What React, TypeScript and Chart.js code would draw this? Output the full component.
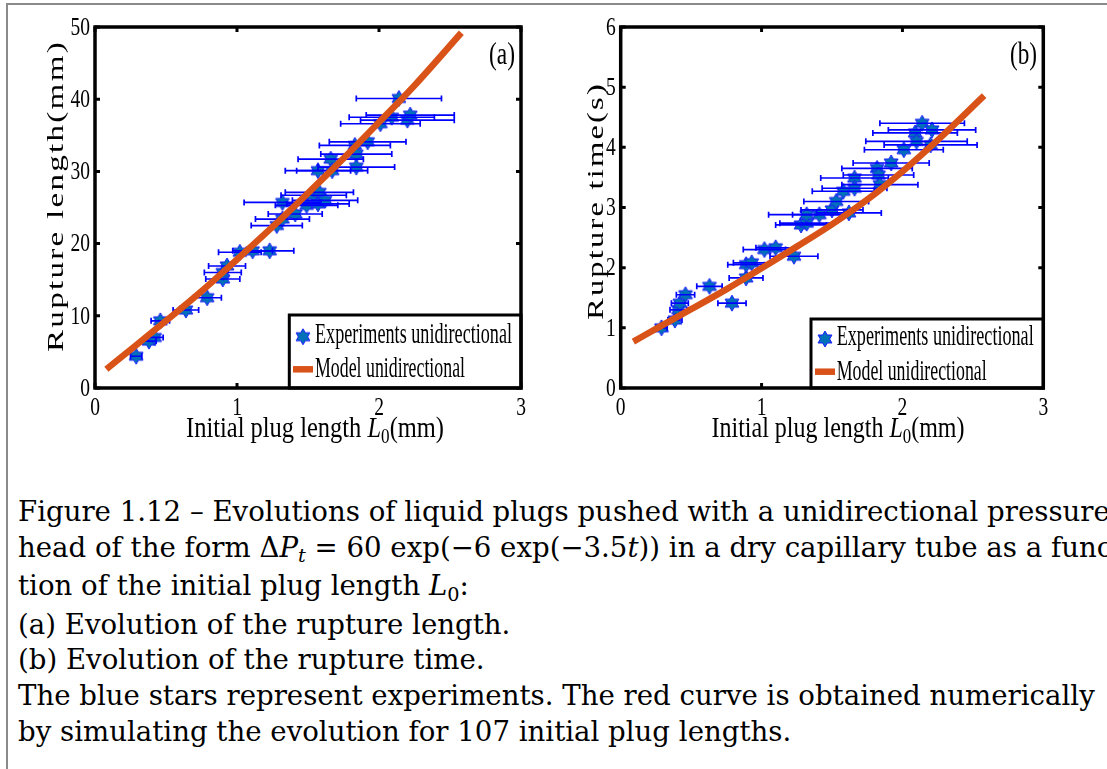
import React, { useEffect, useRef } from "react";
import { Chart, registerables } from "chart.js";
Chart.register(...registerables);

// ---------- data ----------
const X_TICKS = [0, 1, 2, 3];
const LENGTH_TICKS = [0, 10, 20, 30, 40, 50];
const TIME_TICKS = [0, 1, 2, 3, 4, 5, 6];

// panel (a): rupture length
const lengthL0 = [0.29, 0.38, 0.42, 0.46, 0.64, 0.79, 0.9, 0.9, 0.93, 1.02, 1.11, 1.23, 1.28, 1.32, 1.32, 1.41, 1.49, 1.54, 1.57, 1.57, 1.58, 1.62, 1.66, 1.67, 1.83, 1.84, 1.84, 1.92, 2.01, 2.09, 2.14, 2.2, 2.22];
const ruptureLength = [4.4, 6.5, 7.0, 9.3, 10.8, 12.5, 15.1, 16.0, 16.9, 18.8, 19.0, 19.0, 22.5, 23.4, 25.7, 24.1, 25.3, 26.7, 25.5, 30.1, 27.1, 26.0, 31.7, 30.1, 33.6, 32.4, 30.6, 34.1, 36.6, 37.5, 40.1, 37.1, 37.8];
const lengthErr = [0.04, 0.05, 0.06, 0.065, 0.09, 0.1, 0.12, 0.13, 0.13, 0.15, 0.14, 0.17, 0.18, 0.19, 0.27, 0.19, 0.22, 0.23, 0.22, 0.23, 0.24, 0.23, 0.23, 0.25, 0.25, 0.25, 0.27, 0.27, 0.28, 0.3, 0.3, 0.33, 0.31];
const modelLengthL0 = [0.08, 0.3, 0.5, 0.75, 1.0, 1.25, 1.5, 1.75, 2.0, 2.25, 2.58];
const modelLength = [2.6, 6.1, 9.3, 13.4, 17.8, 22.3, 27.0, 31.8, 36.8, 41.9, 49.2];

// panel (b): rupture time
const timeL0 = [0.29, 0.385, 0.41, 0.42, 0.46, 0.63, 0.79, 0.89, 0.89, 0.93, 1.02, 1.1, 1.23, 1.28, 1.32, 1.32, 1.41, 1.5, 1.53, 1.58, 1.62, 1.66, 1.66, 1.82, 1.83, 1.84, 1.92, 2.01, 2.09, 2.1, 2.14, 2.2, 2.21];
const ruptureTime = [1.0, 1.13, 1.3, 1.41, 1.55, 1.69, 1.41, 1.83, 2.05, 2.08, 2.3, 2.33, 2.19, 2.71, 2.74, 2.88, 2.88, 2.96, 3.1, 3.27, 2.91, 3.49, 3.32, 3.65, 3.54, 3.38, 3.74, 3.96, 4.24, 4.1, 4.4, 4.04, 4.29];
const timeErr = [0.04, 0.05, 0.06, 0.06, 0.065, 0.09, 0.1, 0.12, 0.13, 0.13, 0.15, 0.14, 0.17, 0.18, 0.19, 0.27, 0.19, 0.22, 0.23, 0.22, 0.23, 0.24, 0.23, 0.25, 0.25, 0.27, 0.27, 0.28, 0.3, 0.36, 0.3, 0.33, 0.31];
const modelTimeL0 = [0.09, 0.3, 0.5, 0.75, 1.0, 1.25, 1.5, 1.75, 2.0, 2.25, 2.58];
const modelTime = [0.77, 1.05, 1.31, 1.64, 1.99, 2.35, 2.72, 3.13, 3.6, 4.12, 4.86];

// ---------- styling helpers ----------
const SERIF = "'Liberation Serif', 'DejaVu Serif', serif";
const SQUEEZE = 0.75;
const ORANGE = "#d95319";

type Part = { t: string; italic?: boolean; scale?: number; dy?: number };

function drawRun(
  ctx: CanvasRenderingContext2D,
  parts: Part[],
  x: number,
  y: number,
  target: number,
  size: number,
  mode: "center" | "left" | "vertical",
  spacing = 0
) {
  ctx.save();
  const fontOf = (p: Part) => `${p.italic ? "italic " : ""}${Math.round((p.scale ?? 1) * size)}px ${SERIF}`;
  (ctx as any).letterSpacing = `${spacing}px`;
  let natural = 0;
  const ws = parts.map((p) => {
    ctx.font = fontOf(p);
    const w = ctx.measureText(p.t).width;
    natural += w;
    return w;
  });
  const s = target / natural;
  ctx.translate(x, y);
  if (mode === "vertical") {
    ctx.rotate(-Math.PI / 2);
    ctx.scale(s, SQUEEZE);
  } else {
    ctx.scale(s, 1);
  }
  let cur = mode === "left" ? 0 : -natural / 2;
  ctx.fillStyle = "#000";
  ctx.textAlign = "left";
  ctx.textBaseline = "alphabetic";
  parts.forEach((p, i) => {
    ctx.font = fontOf(p);
    ctx.fillText(p.t, cur, (p.dy ?? 0) * size);
    cur += ws[i];
  });
  ctx.restore();
}

let starCache: HTMLCanvasElement | null = null;
function starImage(): HTMLCanvasElement {
  if (starCache) return starCache;
  const c = document.createElement("canvas");
  c.width = 20;
  c.height = 20;
  const g = c.getContext("2d")!;
  const R = 8;
  g.beginPath();
  for (let k = 0; k < 12; k++) {
    const ang = ((-90 + 30 * k) * Math.PI) / 180;
    const r = k % 2 === 0 ? R : R / Math.sqrt(3);
    const px = 10 + r * Math.cos(ang);
    const py = 10 + r * Math.sin(ang);
    if (k === 0) g.moveTo(px, py);
    else g.lineTo(px, py);
  }
  g.closePath();
  g.fillStyle = "#0070b8";
  g.fill();
  g.strokeStyle = "#1a1aff";
  g.lineWidth = 1;
  g.stroke();
  starCache = c;
  return c;
}

type PanelSpec = {
  left: number;
  width: number;
  areaLeft: number;
  areaRight: number;
  yMax: number;
  yTicks: number[];
  xs: number[];
  ys: number[];
  errs: number[];
  mx: number[];
  my: number[];
  yTitle: string;
  yTitleX: number;
  yTitleCY: number;
  yTitleLen: number;
  xTitleCX: number;
  xTitleLen: number;
  tag: string;
  tagCX: number;
  tagW: number;
  lg: {
    boxL: number;
    boxT: number;
    starX: number;
    starY: number;
    textX: number;
    t1Y: number;
    lineX0: number;
    lineX1: number;
    lineY: number;
    t2Y: number;
  };
};

const TOP = 5;
const HEIGHT = 450;
const AREA_TOP = 22;
const AREA_BOTTOM = 383;

function Panel({ spec }: { spec: PanelSpec }) {
  const ref = useRef<HTMLCanvasElement>(null);
  useEffect(() => {
    const canvas = ref.current!;
    const star = starImage();
    const s = spec;
    const overlay = {
      id: "overlay",
      afterDatasetDraw(chart: any, args: any) {
        if (args.meta.index !== 0) return;
        const ctx: CanvasRenderingContext2D = chart.ctx;
        const xs = chart.scales.x;
        const ys = chart.scales.y;
        ctx.save();
        ctx.strokeStyle = "#0000ff";
        ctx.lineWidth = 1.7;
        s.xs.forEach((x, i) => {
          const a = xs.getPixelForValue(x - s.errs[i]);
          const b = xs.getPixelForValue(x + s.errs[i]);
          const y = ys.getPixelForValue(s.ys[i]);
          ctx.beginPath();
          ctx.moveTo(a, y);
          ctx.lineTo(b, y);
          ctx.moveTo(a, y - 3);
          ctx.lineTo(a, y + 3);
          ctx.moveTo(b, y - 3);
          ctx.lineTo(b, y + 3);
          ctx.stroke();
        });
        ctx.restore();
      },
      afterDraw(chart: any) {
        const ctx: CanvasRenderingContext2D = chart.ctx;
        const xs = chart.scales.x;
        const ys = chart.scales.y;
        const A = chart.chartArea;
        ctx.save();
        // inward ticks
        ctx.strokeStyle = "#000";
        ctx.lineWidth = 3;
        ctx.beginPath();
        X_TICKS.forEach((v) => {
          const px = xs.getPixelForValue(v);
          ctx.moveTo(px, A.bottom);
          ctx.lineTo(px, A.bottom - 5);
          ctx.moveTo(px, A.top);
          ctx.lineTo(px, A.top + 5);
        });
        s.yTicks.forEach((v) => {
          const py = ys.getPixelForValue(v);
          ctx.moveTo(A.left, py);
          ctx.lineTo(A.left + 5, py);
          ctx.moveTo(A.right, py);
          ctx.lineTo(A.right - 5, py);
        });
        ctx.stroke();
        // legend
        const L = s.lg;
        ctx.fillStyle = "#fff";
        ctx.fillRect(L.boxL, L.boxT, A.right - L.boxL, A.bottom - L.boxT);
        ctx.lineWidth = 3;
        ctx.strokeStyle = "#000";
        ctx.strokeRect(L.boxL, L.boxT, A.right - L.boxL, A.bottom - L.boxT);
        ctx.drawImage(star, L.starX - 10, L.starY - 10);
        ctx.strokeStyle = ORANGE;
        ctx.lineWidth = 6.5;
        ctx.lineCap = "butt";
        ctx.beginPath();
        ctx.moveTo(L.lineX0, L.lineY);
        ctx.lineTo(L.lineX1, L.lineY);
        ctx.stroke();
        drawRun(ctx, [{ t: "Experiments unidirectional" }], L.textX, L.t1Y, 197, 30, "left");
        drawRun(ctx, [{ t: "Model unidirectional" }], L.textX, L.t2Y, 150, 30, "left");
        // frame
        ctx.strokeStyle = "#000";
        ctx.lineWidth = 3.5;
        ctx.strokeRect(A.left, A.top, A.right - A.left, A.bottom - A.top);
        // tick labels
        ctx.fillStyle = "#000";
        ctx.font = `26px ${SERIF}`;
        s.yTicks.forEach((v) => {
          const py = ys.getPixelForValue(v);
          ctx.save();
          ctx.translate(A.left - 5, py + 1);
          ctx.scale(SQUEEZE, 1);
          ctx.textAlign = "right";
          ctx.textBaseline = "middle";
          ctx.fillText(String(v), 0, 0);
          ctx.restore();
        });
        X_TICKS.forEach((v) => {
          const px = xs.getPixelForValue(v);
          ctx.save();
          ctx.translate(px, A.bottom + 27);
          ctx.scale(SQUEEZE, 1);
          ctx.textAlign = "center";
          ctx.textBaseline = "alphabetic";
          ctx.fillText(String(v), 0, 0);
          ctx.restore();
        });
        // titles
        drawRun(ctx, [{ t: s.yTitle }], s.yTitleX, s.yTitleCY, s.yTitleLen, 30, "vertical", 2);
        drawRun(
          ctx,
          [
            { t: "Initial plug length " },
            { t: "L", italic: true },
            { t: "0", scale: 0.7, dy: 0.2 },
            { t: "(mm)" },
          ],
          s.xTitleCX,
          A.bottom + 49,
          s.xTitleLen,
          30,
          "center"
        );
        drawRun(ctx, [{ t: s.tag }], s.tagCX, 59, s.tagW, 31, "center");
        ctx.restore();
      },
    };

    const chart = new Chart(canvas, {
      type: "scatter",
      data: {
        datasets: [
          {
            label: "Experiments unidirectional",
            data: s.xs.map((x, i) => ({ x, y: s.ys[i] })),
            pointStyle: star as any,
            pointRadius: 9,
            showLine: false,
            order: 2,
          },
          {
            label: "Model unidirectional",
            data: s.mx.map((x, i) => ({ x, y: s.my[i] })),
            showLine: true,
            borderColor: ORANGE,
            borderWidth: 6.5,
            borderCapStyle: "butt",
            cubicInterpolationMode: "monotone",
            pointRadius: 0,
            fill: false,
            order: 1,
          },
        ],
      },
      options: {
        animation: false,
        responsive: false,
        maintainAspectRatio: false,
        events: [],
        layout: { padding: { left: 0, top: AREA_TOP, right: s.width - s.areaRight, bottom: 0 } },
        plugins: { legend: { display: false }, tooltip: { enabled: false } },
        scales: {
          x: {
            type: "linear",
            min: 0,
            max: 3,
            grid: { display: false, drawTicks: false },
            border: { display: false },
            ticks: { display: false, stepSize: 1 },
            afterFit: (sc: any) => {
              sc.height = HEIGHT - AREA_BOTTOM;
            },
          },
          y: {
            type: "linear",
            min: 0,
            max: s.yMax,
            grid: { display: false, drawTicks: false },
            border: { display: false },
            ticks: { display: false },
            afterFit: (sc: any) => {
              sc.width = s.areaLeft;
            },
          },
        },
      } as any,
      plugins: [overlay],
    });
    return () => chart.destroy();
  }, [spec]);
  return (
    <canvas
      ref={ref}
      width={spec.width}
      height={HEIGHT}
      style={{ position: "absolute", left: spec.left, top: TOP, width: spec.width, height: HEIGHT }}
    />
  );
}

const panelA: PanelSpec = {
  left: 5,
  width: 558,
  areaLeft: 90,
  areaRight: 516,
  yMax: 50,
  yTicks: LENGTH_TICKS,
  xs: lengthL0,
  ys: ruptureLength,
  errs: lengthErr,
  mx: modelLengthL0,
  my: modelLength,
  yTitle: "Rupture length(mm)",
  yTitleX: 58,
  yTitleCY: 191,
  yTitleLen: 312,
  xTitleCX: 310,
  xTitleLen: 258,
  tag: "(a)",
  tagCX: 497,
  tagW: 26,
  lg: { boxL: 284.3, boxT: 310, starX: 298, starY: 331.7, textX: 310, t1Y: 337.7, lineX0: 288, lineX1: 308, lineY: 364.3, t2Y: 371.7 },
};

const panelB: PanelSpec = {
  left: 565,
  width: 535,
  areaLeft: 55.7,
  areaRight: 478.3,
  yMax: 6,
  yTicks: TIME_TICKS,
  xs: timeL0,
  ys: ruptureTime,
  errs: timeErr,
  mx: modelTimeL0,
  my: modelTime,
  yTitle: "Rupture time(s)",
  yTitleX: 38,
  yTitleCY: 196,
  yTitleLen: 238,
  xTitleCX: 273,
  xTitleLen: 253,
  tag: "(b)",
  tagCX: 458.5,
  tagW: 27,
  lg: { boxL: 246, boxT: 314, starX: 260, starY: 334, textX: 271.7, t1Y: 340, lineX0: 250, lineX1: 270, lineY: 366.7, t2Y: 375 },
};

const subStyle: React.CSSProperties = { fontSize: "0.7em", verticalAlign: "baseline", position: "relative", top: "0.28em" };

export default function App() {
  return (
    <div style={{ position: "fixed", left: 0, top: 0, width: 1107, height: 769, overflow: "hidden", background: "#fff" }}>
      <div
        style={{
          position: "absolute",
          left: 6,
          top: 3,
          width: 1300,
          height: 1000,
          borderTop: "2px solid #8a8a8a",
          borderLeft: "2px solid #8a8a8a",
        }}
      />
      <Panel spec={panelA} />
      <Panel spec={panelB} />
      <div
        style={{
          position: "absolute",
          left: 18,
          top: 494,
          fontFamily: "'DejaVu Serif', serif",
          fontSize: 27.6,
          lineHeight: "35.6px",
          whiteSpace: "nowrap",
          color: "#000",
        }}
      >
        <div>Figure 1.12 – Evolutions of liquid plugs pushed with a unidirectional pressure</div>
        <div>
          head of the form Δ<i>P</i>
          <span style={subStyle}>
            <i>t</i>
          </span>{" "}
          = 60 exp(−6 exp(−3.5<i>t</i>)) in a dry capillary tube as a func-
        </div>
        <div>
          tion of the initial plug length <i>L</i>
          <span style={subStyle}>0</span>:
        </div>
        <div>(a) Evolution of the rupture length.</div>
        <div>(b) Evolution of the rupture time.</div>
        <div>The blue stars represent experiments. The red curve is obtained numerically</div>
        <div>by simulating the evolution for 107 initial plug lengths.</div>
      </div>
    </div>
  );
}
